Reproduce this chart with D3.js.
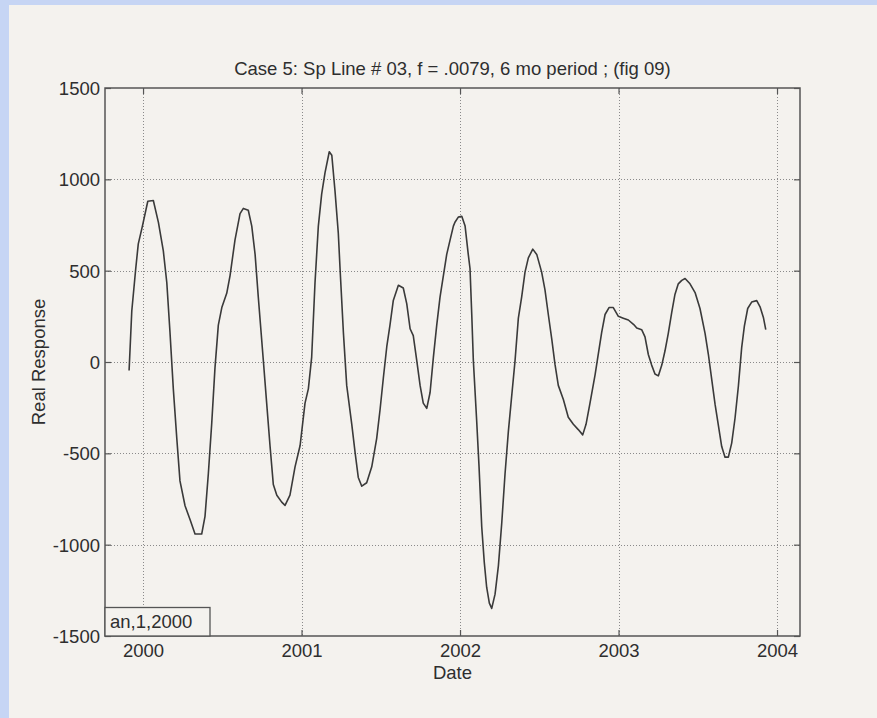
<!DOCTYPE html>
<html>
<head>
<meta charset="utf-8">
<script src="https://cdn.jsdelivr.net/npm/d3@7"></script>
<style>
  html, body { margin: 0; padding: 0; background: #c6d5f4; }
  svg { display: block; }
  text { font-family: "Liberation Sans", Arial, Helvetica, sans-serif; fill: #2e2e2e; }
</style>
</head>
<body>
<svg id="chart" width="877" height="718"></svg>
<script>
// Sampled response (decimal year, value)
const dates = [
  1999.912, 1999.929, 1999.954, 1999.970, 1999.996, 2000.030, 2000.065, 2000.097, 2000.128, 2000.150,
  2000.170, 2000.191, 2000.213, 2000.233, 2000.265, 2000.297, 2000.328, 2000.370, 2000.391, 2000.412,
  2000.433, 2000.454, 2000.475, 2000.497, 2000.528, 2000.549, 2000.580, 2000.612, 2000.633, 2000.664,
  2000.686, 2000.707, 2000.727, 2000.759, 2000.780, 2000.801, 2000.822, 2000.844, 2000.875, 2000.896,
  2000.927, 2000.959, 2000.991, 2001.022, 2001.043, 2001.064, 2001.085, 2001.106, 2001.127, 2001.148,
  2001.175, 2001.191, 2001.211, 2001.232, 2001.243, 2001.264, 2001.285, 2001.317, 2001.338, 2001.358,
  2001.380, 2001.411, 2001.443, 2001.474, 2001.495, 2001.516, 2001.538, 2001.558, 2001.579, 2001.611,
  2001.642, 2001.664, 2001.685, 2001.705, 2001.727, 2001.748, 2001.768, 2001.790, 2001.811, 2001.832,
  2001.853, 2001.874, 2001.895, 2001.916, 2001.937, 2001.958, 2001.968, 2001.989, 2002.011, 2002.032,
  2002.052, 2002.063, 2002.074, 2002.084, 2002.105, 2002.120, 2002.137, 2002.153, 2002.168, 2002.185,
  2002.200, 2002.221, 2002.242, 2002.263, 2002.284, 2002.305, 2002.326, 2002.347, 2002.368, 2002.389,
  2002.410, 2002.431, 2002.459, 2002.484, 2002.515, 2002.536, 2002.557, 2002.579, 2002.599, 2002.620,
  2002.652, 2002.683, 2002.715, 2002.746, 2002.774, 2002.795, 2002.820, 2002.852, 2002.873, 2002.894,
  2002.915, 2002.940, 2002.967, 2002.999, 2003.030, 2003.062, 2003.096, 2003.115, 2003.146, 2003.167,
  2003.188, 2003.209, 2003.230, 2003.251, 2003.273, 2003.293, 2003.314, 2003.336, 2003.356, 2003.377,
  2003.399, 2003.420, 2003.451, 2003.483, 2003.514, 2003.546, 2003.567, 2003.588, 2003.609, 2003.630,
  2003.651, 2003.672, 2003.693, 2003.714, 2003.735, 2003.756, 2003.777, 2003.794, 2003.815, 2003.840,
  2003.872, 2003.893, 2003.914, 2003.929
];
const response = [
  -47, 279, 512, 647, 744, 880, 884, 764, 608, 434,
  163, -147, -419, -651, -787, -864, -942, -942, -845, -612,
  -341, -31, 202, 298, 376, 473, 667, 812, 841, 831,
  744, 589, 357, 8, -225, -457, -671, -729, -767, -785,
  -729, -574, -457, -225, -147, 27, 434, 744, 919, 1035,
  1151, 1132, 938, 705, 512, 163, -128, -341, -496, -632,
  -680, -661, -574, -419, -264, -89, 85, 202, 337, 420,
  405, 318, 182, 144, 8, -128, -225, -254, -167, 27,
  202, 357, 473, 589, 667, 744, 765, 793, 798, 744,
  589, 512, 260, 8, -322, -574, -903, -1097, -1233, -1320,
  -1349, -1271, -1116, -884, -612, -380, -186, 6, 240, 357,
  492, 570, 618, 589, 492, 395, 260, 124, -12, -128,
  -205, -302, -341, -370, -399, -341, -225, -70, 47, 163,
  260, 298, 298, 250, 240, 230, 205, 186, 177, 138,
  41, -17, -66, -76, -17, 60, 157, 273, 370, 428,
  447, 457, 428, 380, 293, 157, 41, -95, -231, -347,
  -463, -521, -521, -444, -308, -134, 79, 196, 293, 328,
  336, 302, 244, 177
];

const xTicks = [2000, 2001, 2002, 2003, 2004];
const yTicks = [-1500, -1000, -500, 0, 500, 1000, 1500];
const xDomain = [1999.76, 2004.145];
const yDomain = [-1500, 1500];

const titleText = "Case 5: Sp Line # 03, f = .0079, 6 mo period ; (fig 09)";
const xLabel = "Date";
const yLabel = "Real Response";
const noteText = "an,1,2000";

// Layout
const W = 877, H = 718;
const plot = { left: 105, right: 800, top: 88, bottom: 636 };
const paper = "#f4f2ee";
const frameColor = "#555";
const fontSize = "18.5px";
// plain hyphen-minus for negative tick labels
const plainNumber = d => String(d);

const svg = d3.select("#chart");

// Page background: paper sheet with blue strips on the top and left
svg.append("rect").attr("width", W).attr("height", H).attr("fill", "#c6d5f4");
svg.append("rect").attr("x", 9).attr("y", 5).attr("width", W - 9).attr("height", H - 5).attr("fill", paper);

const x = d3.scaleLinear().domain(xDomain).range([plot.left, plot.right]);
const y = d3.scaleLinear().domain(yDomain).range([plot.bottom, plot.top]);

const g = svg.append("g");

// Dotted grid
const grid = g.append("g").attr("stroke", "#8a8a8a").attr("stroke-width", 1).attr("stroke-dasharray", "1,2");
grid.selectAll("line.vx").data(xTicks).join("line")
  .attr("x1", d => Math.round(x(d)) + 0.5).attr("x2", d => Math.round(x(d)) + 0.5)
  .attr("y1", plot.top).attr("y2", plot.bottom);
grid.selectAll("line.hy").data(yTicks.filter(v => v > yDomain[0] && v < yDomain[1])).join("line")
  .attr("y1", d => Math.round(y(d)) + 0.5).attr("y2", d => Math.round(y(d)) + 0.5)
  .attr("x1", plot.left).attr("x2", plot.right);

// Axes with inward ticks on all four sides
const tickLen = 6;
const axisStyle = sel => {
  sel.select(".domain").remove();
  sel.selectAll(".tick line").attr("stroke", frameColor).attr("stroke-width", 1.2);
  sel.selectAll(".tick text").style("font-size", fontSize).attr("fill", "#2e2e2e");
};

g.append("g").attr("transform", `translate(0,${plot.bottom})`)
  .call(d3.axisBottom(x).tickValues(xTicks).tickFormat(plainNumber).tickSizeInner(-tickLen).tickSizeOuter(0).tickPadding(10))
  .call(axisStyle)
  .call(s => s.selectAll(".tick text").attr("y", 21).attr("dy", "0"));

g.append("g").attr("transform", `translate(0,${plot.top})`)
  .call(d3.axisTop(x).tickValues(xTicks).tickFormat("").tickSizeInner(-tickLen).tickSizeOuter(0))
  .call(axisStyle);

g.append("g").attr("transform", `translate(${plot.left},0)`)
  .call(d3.axisLeft(y).tickValues(yTicks).tickFormat(plainNumber).tickSizeInner(-tickLen).tickSizeOuter(0))
  .call(axisStyle)
  .call(s => s.selectAll(".tick text").attr("x", -5).attr("dy", "0.35em"));

g.append("g").attr("transform", `translate(${plot.right},0)`)
  .call(d3.axisRight(y).tickValues(yTicks).tickFormat("").tickSizeInner(-tickLen).tickSizeOuter(0))
  .call(axisStyle);

// Response curve
const series = dates.map((d, i) => ({ t: d, v: response[i] }));
g.append("path")
  .datum(series)
  .attr("fill", "none")
  .attr("stroke", "#3a3a3a")
  .attr("stroke-width", 1.6)
  .attr("stroke-linejoin", "round")
  .attr("d", d3.line().x(d => x(d.t)).y(d => y(d.v)));

// Plot frame
g.append("rect")
  .attr("x", plot.left).attr("y", plot.top)
  .attr("width", plot.right - plot.left).attr("height", plot.bottom - plot.top)
  .attr("fill", "none").attr("stroke", frameColor).attr("stroke-width", 1.5);

// Annotation box in the lower-left corner
const note = g.append("g");
note.append("rect")
  .attr("x", plot.left).attr("y", 607.5)
  .attr("width", 105).attr("height", plot.bottom - 607.5)
  .attr("fill", paper).attr("stroke", frameColor).attr("stroke-width", 1.3);
note.append("text")
  .attr("x", plot.left + 5).attr("y", 628)
  .style("font-size", fontSize)
  .text(noteText);

// Titles
svg.append("text")
  .attr("x", (plot.left + plot.right) / 2).attr("y", 75)
  .attr("text-anchor", "middle")
  .style("font-size", fontSize)
  .text(titleText);

svg.append("text")
  .attr("x", (plot.left + plot.right) / 2).attr("y", 679)
  .attr("text-anchor", "middle")
  .style("font-size", fontSize)
  .text(xLabel);

svg.append("text")
  .attr("transform", `translate(45,${(plot.top + plot.bottom) / 2}) rotate(-90)`)
  .attr("text-anchor", "middle")
  .style("font-size", fontSize)
  .text(yLabel);
</script>
</body>
</html>
